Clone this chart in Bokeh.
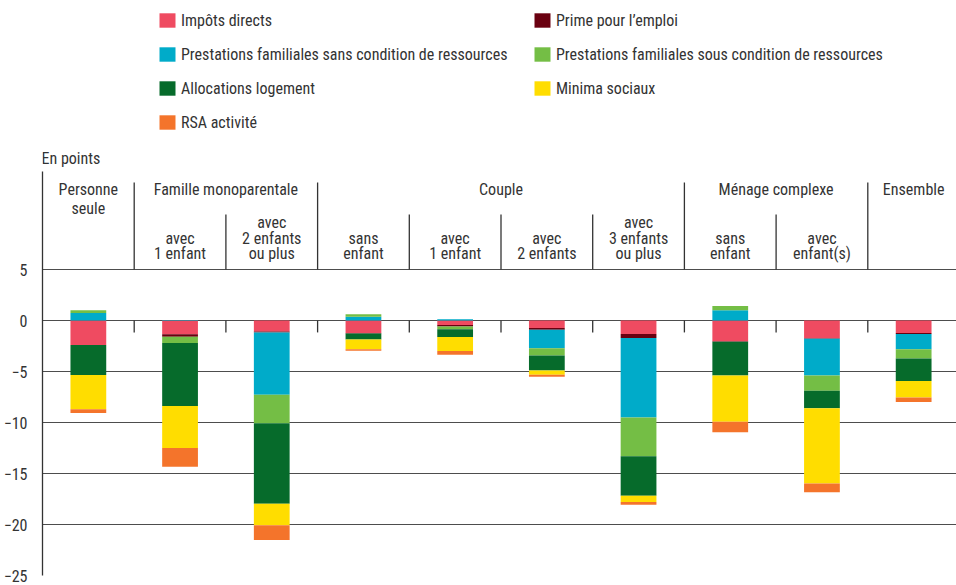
import numpy as np
from bokeh.plotting import figure
from bokeh.models import ColumnDataSource, Legend, LegendItem, FixedTicker, Range1d
from bokeh.core.properties import value
from bokeh.embed import file_html
from bokeh.resources import INLINE

# ---------------- data ----------------
categories = ["Personne seule", "Fam. mono. 1 enfant", "Fam. mono. 2 enfants ou plus",
              "Couple sans enfant", "Couple 1 enfant", "Couple 2 enfants",
              "Couple 3 enfants ou plus", "Ménage complexe sans enfant",
              "Ménage complexe avec enfant(s)", "Ensemble"]

series_names = ["Impôts directs", "Prime pour l’emploi",
                "Prestations familiales sans condition de ressources",
                "Prestations familiales sous condition de ressources",
                "Allocations logement", "Minima sociaux", "RSA activité"]
series_colors = ["#EF4B61", "#6A0010", "#00ABC9", "#74BE45", "#066B2B", "#FFDD00", "#F4742B"]

impots      = [-2.40, -1.36, -1.07, -1.23, -0.45, -0.74, -1.33, -2.04, -1.75, -1.23]
prime       = [ 0.00, -0.23, -0.10, -0.05, -0.13, -0.16, -0.39, -0.05, -0.05, -0.10]
pf_sans     = [ 0.74,  0.05, -6.12,  0.36,  0.13, -1.81, -7.80,  1.00, -3.59, -1.49]
pf_sous     = [ 0.26, -0.61, -2.78,  0.26, -0.29, -0.71, -3.79,  0.42, -1.49, -0.91]
logement    = [-2.94, -6.18, -7.90, -0.58, -0.74, -1.49, -3.88, -3.30, -1.72, -2.20]
minima      = [-3.37, -4.11, -2.10, -0.97, -1.39, -0.42, -0.61, -4.53, -7.38, -1.62]
rsa         = [-0.36, -1.84, -1.46, -0.13, -0.36, -0.19, -0.26, -1.04, -0.87, -0.45]
series_values = [impots, prime, pf_sans, pf_sous, logement, minima, rsa]

group_labels = ["Personne\nseule", "Famille monoparentale", "Couple", "Ménage complexe", "Ensemble"]
group_spans = [(0, 1), (1, 3), (3, 7), (7, 9), (9, 10)]
sub_labels = ["", "avec\n1 enfant", "avec\n2 enfants\nou plus", "sans\nenfant", "avec\n1 enfant",
              "avec\n2 enfants", "avec\n3 enfants\nou plus", "sans\nenfant", "avec\nenfant(s)", ""]
y_ticks = [5, 0, -5, -10, -15, -20, -25]
unit_label = "En points"

# ---------------- layout helpers ----------------
FONT = "Roboto Condensed, Roboto"
TXT = "#333333"
FS = "16px"
W, H = 956, 585
FRAME_LEFT = 42
FRAME_BOTTOM = 575
PX_UNIT_Y = (FRAME_BOTTOM - 269) / 30.0
Y_TOP = 5 + 269 / PX_UNIT_Y
CAT_W = 91.7
X_END = (W - FRAME_LEFT) / CAT_W


def py(page_y):
    return Y_TOP - page_y / PX_UNIT_Y


p = figure(width=W, height=H, x_range=Range1d(0, X_END), y_range=Range1d(-25, Y_TOP),
           output_backend="svg", toolbar_location=None, x_axis_location=None,
           min_border_left=FRAME_LEFT, min_border_right=0, min_border_top=0,
           min_border_bottom=H - FRAME_BOTTOM, outline_line_color=None,
           background_fill_color="white")

# y axis & grid
p.yaxis.ticker = FixedTicker(ticks=y_ticks)
p.yaxis.bounds = (-25, py(171))
p.yaxis.axis_line_color = "#333333"
p.yaxis.axis_line_width = 1.3
p.yaxis.major_tick_line_color = None
p.yaxis.minor_tick_line_color = None
p.yaxis.major_label_standoff = 9
p.yaxis.major_label_text_font = FONT
p.yaxis.major_label_text_font_size = FS
p.yaxis.major_label_text_color = TXT
p.xgrid.visible = False
p.ygrid.ticker = FixedTicker(ticks=y_ticks)
p.ygrid.grid_line_color = "#4d4d4d"
p.ygrid.grid_line_width = 1.1

# bars
x = np.arange(len(categories)) + 0.5
pos_cum = np.zeros(len(categories))
neg_cum = np.zeros(len(categories))
renderers = []
for name, col, vals in zip(series_names, series_colors, series_values):
    v = np.array(vals, dtype=float)
    bottom = np.where(v >= 0, pos_cum, neg_cum + v)
    top = np.where(v >= 0, pos_cum + v, neg_cum)
    pos_cum = pos_cum + np.where(v >= 0, v, 0)
    neg_cum = neg_cum + np.where(v < 0, v, 0)
    src = ColumnDataSource(dict(x=x, top=top, bottom=bottom))
    r = p.vbar(x="x", top="top", bottom="bottom", width=0.39, source=src,
               fill_color=col, line_color=None)
    renderers.append(r)

# separators
bounds_all = list(range(1, len(categories)))
group_bounds = [s for (s, e) in group_spans[1:]]
sub_bounds = [b for b in bounds_all if b not in group_bounds]
p.segment(x0=group_bounds, x1=group_bounds, y0=[py(182)] * len(group_bounds), y1=[5] * len(group_bounds),
          line_color="#333333", line_width=1.3)
p.segment(x0=sub_bounds, x1=sub_bounds, y0=[py(214)] * len(sub_bounds), y1=[5] * len(sub_bounds),
          line_color="#333333", line_width=1.3)
p.segment(x0=bounds_all, x1=bounds_all, y0=[0] * len(bounds_all), y1=[-1.17] * len(bounds_all),
          line_color="#333333", line_width=1.3)

# header texts
LINE_PX = 15.5
gx, gy, gt = [], [], []
for lab, (s, e) in zip(group_labels, group_spans):
    for i, line in enumerate(lab.split("\n")):
        gx.append((s + e) / 2)
        gy.append(py(189 + i * 19))
        gt.append(line)
sx, sy, st = [], [], []
for i, lab in enumerate(sub_labels):
    if not lab:
        continue
    lines = lab.split("\n")
    n = len(lines)
    for j, line in enumerate(lines):
        sx.append(i + 0.5)
        sy.append(py(253 - (n - 1 - j) * LINE_PX))
        st.append(line)
p.text(x=gx + sx, y=gy + sy, text=gt + st, text_font=value(FONT), text_font_size=FS,
       text_color=TXT, text_align="center", text_baseline="middle")
p.text(x=[(41 - FRAME_LEFT) / CAT_W], y=[py(158)], text=[unit_label], text_font=value(FONT),
       text_font_size=FS, text_color=TXT, text_align="left", text_baseline="middle")

# legend (row-major appearance)
order = [0, 2, 4, 6, 1, 3, 5]
items = [LegendItem(label=series_names[i], renderers=[renderers[i]]) for i in order]
legend_h = 4 * 20 + 3 * 14
frame_h = FRAME_BOTTOM
legend = Legend(items=items, ncols=2, location=(157 - FRAME_LEFT, frame_h - 10 - legend_h),
                glyph_width=20, glyph_height=18, label_height=20, label_width=337,
                label_standoff=4, spacing=14, padding=0, margin=0,
                border_line_color=None, background_fill_alpha=0,
                label_text_font=FONT, label_text_font_size=FS, label_text_color=TXT)
p.add_layout(legend)

open("out.html", "w").write(file_html(p, INLINE))
